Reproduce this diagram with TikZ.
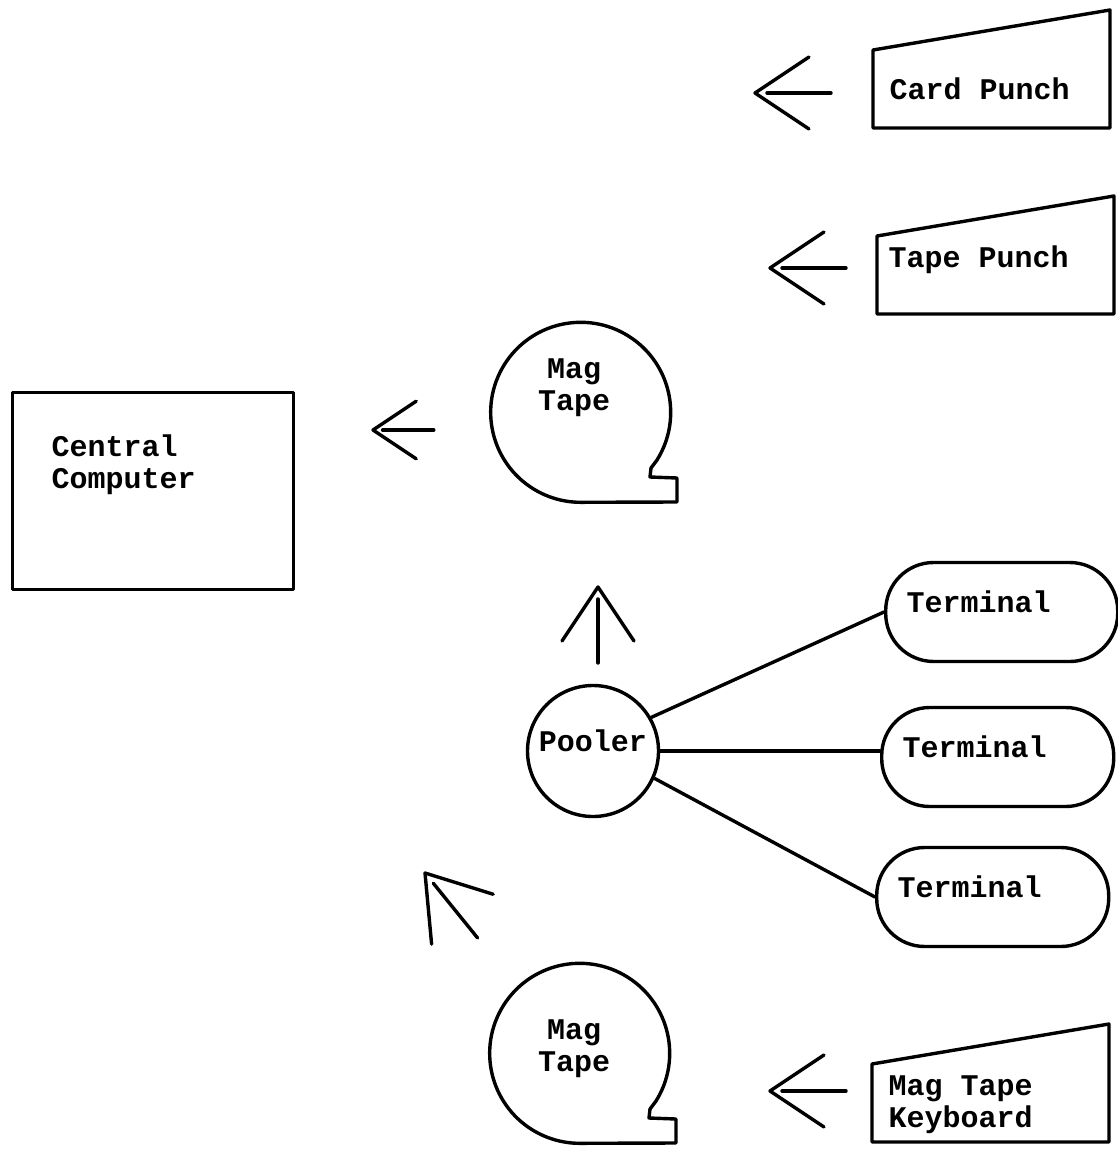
\documentclass[tikz,border=0pt]{standalone}
\usepackage{fontspec}
\setmonofont{Liberation Mono}
\begin{document}
\begin{tikzpicture}[x=1pt, y=-1pt, line width=3.4pt, line join=round, line cap=round,
	txt/.style={font=\ttfamily\bfseries\fontsize{30}{32}\selectfont, inner sep=0pt, align=left},
	term/.style={txt, draw, rounded corners=48pt, minimum height=99pt, text width=190pt, inner xsep=21pt, text height=18pt, text depth=18pt, anchor=west},
	flow/.pic={\draw (54,-36) -- (0,0) -- (54,36); \draw (12,0) -- (76,0);},
	reel/.pic={\draw (76,48) arc[start angle=32, end angle=-270, radius=90] -- (96,90) -- (96,66) -- (69,65) -- (70,56) -- cycle;},
	punch/.pic={\draw (0,0) -- (237,-40) -- (237,78) -- (0,78) -- cycle;}]
	\useasboundingbox (0,0) rectangle (1117,1153);
	% Central computer
	\node[draw, minimum width=281pt, minimum height=197pt, anchor=north west, inner sep=0pt] (central) at (11,391) {};
	\node[txt, anchor=base west] (centraltxt) at (50,488) {Central\\Computer};
	% Punches and keyboard
	\foreach \n/\x/\y in {card/873/50, tape/877/236, keys/872/1064} {
		\coordinate (\n) at (\x,\y);
		\pic at (\n) {punch};
	}
	\node[txt, anchor=base west] (cardtxt) at (888,100) {Card Punch};
	\node[txt, anchor=base west] (tapetxt) at (887,267) {Tape Punch};
	\node[txt, anchor=base west] (keystxt) at (887,1127) {Mag Tape\\Keyboard};
	% Mag tapes
	\pic at (581,412) {reel};
	\pic at (580,1053) {reel};
	\node[txt, align=center, anchor=base] (reeltop) at (574,410) {Mag\\Tape};
	\node[txt, align=center, anchor=base] (reelbot) at (574,1071) {Mag\\Tape};
	% Pooler and terminals
	\node[txt, draw, circle, minimum size=131pt, text height=18pt, text depth=18pt] (pooler) at (593,751) {Pooler};
	\foreach \n/\x/\y in {1/884/612, 2/880/757, 3/875/897}
		\node[term] (t\n) at (\x,\y) {Terminal};
	\draw (pooler.30) -- (t1.west);
	\draw (pooler.east) -- (pooler.east -| t2.west);
	\draw (pooler.-24) -- (t3.west);
	% Arrows
	\foreach \n/\x/\y/\a/\s in {card/755/93/0/1, tape/770/268/0/1, main/373/430/0/0.8, up/598/587/-90/1, diag/425/873/-51/1.1, keys/770/1091/0/1} {
		\coordinate (tip-\n) at (\x,\y);
		\pic[rotate=\a, scale=\s] at (tip-\n) {flow};
	}
\end{tikzpicture}
\end{document}
